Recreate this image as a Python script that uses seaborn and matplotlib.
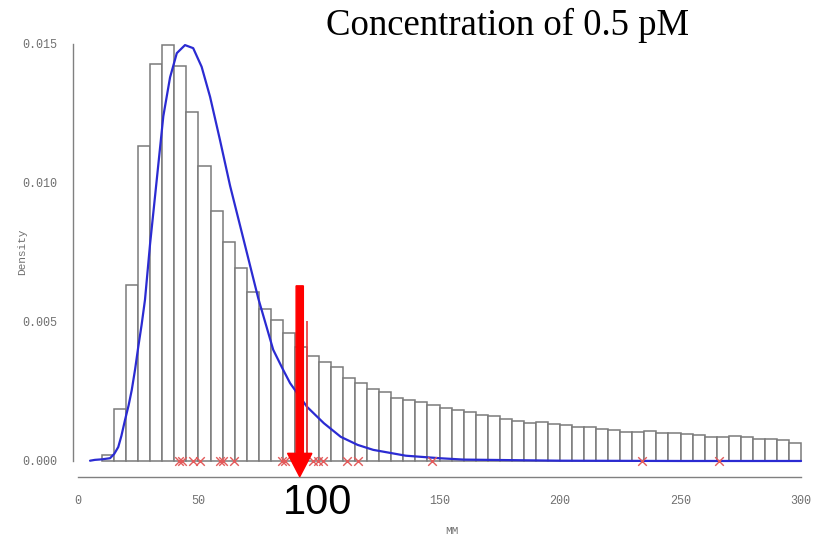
import numpy as np
import pandas as pd
import matplotlib
matplotlib.use("Agg")
import matplotlib.pyplot as plt
from matplotlib.patches import FancyArrow
import seaborn as sns

# ---- data ----
bin_edges = list(range(10, 305, 5))
bin_heights = [0.00022, 0.00186, 0.00633, 0.01134, 0.01428, 0.01498, 0.01422, 0.01254,
               0.01061, 0.00899, 0.00789, 0.00693, 0.00609, 0.00547, 0.00507, 0.00462,
               0.00411, 0.00379, 0.00357, 0.00337, 0.00300, 0.00279, 0.00259, 0.00247,
               0.00228, 0.00219, 0.00212, 0.00203, 0.00192, 0.00185, 0.00176, 0.00165,
               0.00162, 0.00152, 0.00144, 0.00136, 0.00139, 0.00132, 0.00129, 0.00122,
               0.00122, 0.00115, 0.00113, 0.00105, 0.00104, 0.00108, 0.00100, 0.00099,
               0.00098, 0.00092, 0.00086, 0.00085, 0.00089, 0.00085, 0.00079, 0.00078,
               0.00074, 0.00065]

curve_x = [5, 7, 10, 13.3, 15, 16.7, 18, 19.5, 21, 22.3, 23.7, 25, 26.4, 27.8, 29.9,
           32.3, 35.4, 38.2, 41, 44.4, 47.8, 51.3, 54.8, 58.9, 63.1, 68.6, 74.8, 81,
           85, 88, 95, 102, 109, 116, 122.5, 136, 150, 160, 200, 250, 300]
curve_y = [0.00001, 0.00004, 0.00006, 0.0001, 0.00025, 0.0005, 0.0009, 0.00147, 0.0020,
           0.00255, 0.0033, 0.0041, 0.0049, 0.0058, 0.0078, 0.0098, 0.0124, 0.0138,
           0.01467, 0.01496, 0.01485, 0.01418, 0.0131, 0.01155, 0.0099, 0.0080, 0.00585,
           0.0040, 0.0033, 0.0028, 0.00195, 0.00136, 0.00087, 0.00058, 0.0004, 0.00019,
           0.0001, 0.00005, 0.00001, 0.0, 0.0]

cross_x = [42.0, 43.0, 47.9, 50.6, 59.0, 60.3, 64.6, 84.8, 85.8, 97.6, 99.7, 101.8,
           111.5, 116.3, 147.0, 233.9, 266.1]

x_ticks = [0, 50, 100, 150, 200, 250, 300]
x_tick_labels = ["0", "50", "", "150", "200", "250", "300"]  # 100 hidden under the box
y_ticks = [0.000, 0.005, 0.010, 0.015]
y_tick_labels = ["0.000", "0.005", "0.010", "0.015"]

title = "Concentration of 0.5 pM"
marker_value = 95.2
marker_height = 0.00505

# ---- plotting ----
sns.set_style("white")
plt.rcParams['font.family'] = ['Liberation Mono', 'DejaVu Sans']

W, H = 824, 539
fig = plt.figure(figsize=(W / 100, H / 100), dpi=100)
ax = fig.add_axes([73 / W, (H - 477) / H, 740.1 / W, 449.7 / H])

centers = [e + 2.5 for e in bin_edges[:-1]]
hist_df = pd.DataFrame({"MM": centers, "w": bin_heights})
sns.histplot(data=hist_df, x="MM", weights="w", bins=bin_edges, stat="count",
             color="white", edgecolor="#7a7a7a", linewidth=1.1, alpha=1, ax=ax)

curve_df = pd.DataFrame({"x": curve_x, "y": curve_y})
sns.lineplot(data=curve_df, x="x", y="y", color="#2b2bd2", lw=1.6, ax=ax, zorder=4)

cross_df = pd.DataFrame({"x": cross_x, "y": [0.0] * len(cross_x)})
sns.scatterplot(data=cross_df, x="x", y="y", marker="x", s=38, color="#e25a5a",
                linewidth=1.0, ax=ax, zorder=5)

ax.vlines(marker_value, 0, marker_height, color="#e83a3a", lw=1.2, zorder=5)

ax.set_xlim(-2.07, 305)
ax.set_ylim(-0.000576, 0.0156)
for s in ["top", "right"]:
    ax.spines[s].set_visible(False)
for s in ["left", "bottom"]:
    ax.spines[s].set_color("#808080")
    ax.spines[s].set_linewidth(1.0)
ax.spines["left"].set_bounds(0, 0.015)
ax.spines["bottom"].set_bounds(0, 300)
ax.set_xticks(x_ticks)
ax.set_xticklabels(x_tick_labels)
ax.set_yticks(y_ticks)
ax.set_yticklabels(y_tick_labels)
ax.tick_params(axis="both", direction="out", length=5, width=1.0, color="#808080",
               labelcolor="#707070", labelsize=8.5)
ax.tick_params(axis="y", pad=6)
ax.tick_params(axis="x", pad=8)
ax.set_xlabel("")
ax.set_ylabel("")

fig.text(22 / W, 1 - 252 / H, "Density", rotation=90, ha="center", va="center",
         fontsize=8, color="#707070")
fig.text(452 / W, 1 - 531 / H, "MM", ha="center", va="center", fontsize=8,
         color="#707070")

# red arrow
arrow = FancyArrow(92, 0.0063, 0, -0.006865, width=3.0, head_width=10.1,
                   head_length=0.00084, length_includes_head=True, color="#ff0000",
                   clip_on=False, zorder=7)
ax.add_patch(arrow)

ax.text(318 / W, 1 - 503 / H, "100", transform=fig.transFigure, ha="center",
        va="center", fontsize=30, family="Liberation Sans", color="black",
        bbox=dict(facecolor="white", edgecolor="none", pad=3), zorder=6,
        clip_on=False)

fig.text(507.5 / W, 1 - 35 / H, title, ha="center", va="baseline", fontsize=26.5,
         family="Liberation Serif", color="black")

fig.savefig("out.png", dpi=100)
